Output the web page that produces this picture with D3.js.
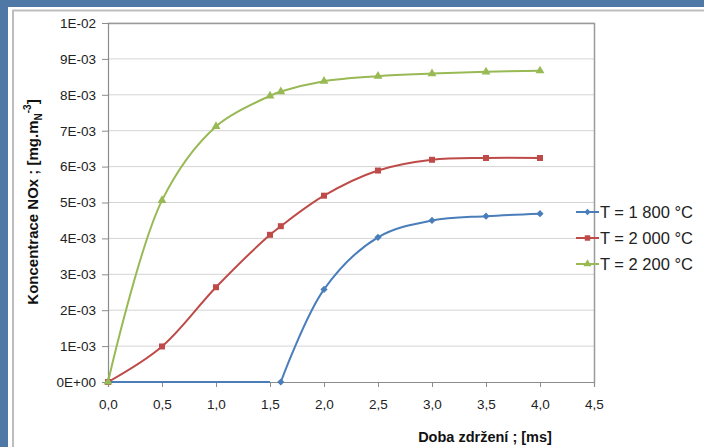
<!DOCTYPE html>
<html>
<head>
<meta charset="utf-8">
<script src="https://cdn.jsdelivr.net/npm/d3@7"></script>
<style>
  html, body { margin: 0; padding: 0; background: #4f78a6; }
  svg { display: block; }
  text { font-family: "Liberation Sans", Arial, sans-serif; }
</style>
</head>
<body>
<svg id="chart" width="704" height="447"></svg>
<script>
const xTicks = [0, 0.5, 1.0, 1.5, 2.0, 2.5, 3.0, 3.5, 4.0, 4.5];
const yTicks = [0, 0.001, 0.002, 0.003, 0.004, 0.005, 0.006, 0.007, 0.008, 0.009, 0.01];
const yTickLabels = ["0E+00", "1E-03", "2E-03", "3E-03", "4E-03", "5E-03", "6E-03", "7E-03", "8E-03", "9E-03", "1E-02"];

// flat part of the 1800 °C curve (no markers)
const baseX1800 = [0, 1.5];
const baseY1800 = [0, 0];

const time1800 = [1.6, 2.0, 2.5, 3.0, 3.5, 4.0];
const nox1800 = [0, 0.00258, 0.00403, 0.0045, 0.00462, 0.00469];

const time2000 = [0, 0.5, 1.0, 1.5, 1.6, 2.0, 2.5, 3.0, 3.5, 4.0];
const nox2000 = [0, 0.00099, 0.00264, 0.00410, 0.00434, 0.00519, 0.00589, 0.00619, 0.00624, 0.00624];

const time2200 = [0, 0.5, 1.0, 1.5, 1.6, 2.0, 2.5, 3.0, 3.5, 4.0];
const nox2200 = [0, 0.00506, 0.00712, 0.00797, 0.00809, 0.00838, 0.00852, 0.00859, 0.00864, 0.00867];

const seriesNames = ["T = 1 800 °C", "T = 2 000 °C", "T = 2 200 °C"];
const colors = ["#4a7ebb", "#be4b48", "#98b954"];
const symbols = [d3.symbolSquare, d3.symbolSquare, d3.symbolTriangle];
const rotations = [45, 0, 0];
const sizes = [26, 36, 34];

const zip = (xs, ys) => xs.map((x, i) => ({x: x, y: ys[i]}));
const series = [
  zip(time1800, nox1800),
  zip(time2000, nox2000),
  zip(time2200, nox2200)
];

const svg = d3.select("#chart");

// white chart panel
svg.append("rect").attr("x", 8).attr("y", 7).attr("width", 720).attr("height", 460).attr("fill", "#fff");
svg.append("rect").attr("x", 13).attr("y", 10.5).attr("width", 720).attr("height", 460)
  .attr("fill", "#fff").attr("stroke", "#bdbdbd").attr("stroke-width", 2);

const margin = {left: 108, right: 594, top: 23, bottom: 382};

const x = d3.scaleLinear().domain([0, 4.5]).range([margin.left, margin.right]);
const y = d3.scaleLinear().domain([0, 0.01]).range([margin.bottom, margin.top]);

// gridlines
svg.append("g")
  .selectAll("line")
  .data(yTicks.slice(1))
  .enter().append("line")
  .attr("x1", margin.left).attr("x2", margin.right)
  .attr("y1", d => y(d)).attr("y2", d => y(d))
  .attr("stroke", "#d4d4d4").attr("stroke-width", 1);

// plot border top/right
svg.append("path")
  .attr("d", `M${margin.left},${margin.top + 0.5}H${margin.right + 0.5}V${margin.bottom}`)
  .attr("fill", "none").attr("stroke", "#9a9a9a").attr("stroke-width", 1.5);

const xAxis = svg.append("g")
  .attr("transform", `translate(0,${margin.bottom})`)
  .call(d3.axisBottom(x).tickValues(xTicks).tickSize(5).tickPadding(12)
    .tickFormat(d => d3.format(".1f")(d).replace(".", ",")));

const yAxis = svg.append("g")
  .attr("transform", `translate(${margin.left},0)`)
  .call(d3.axisLeft(y).tickValues(yTicks).tickSize(6).tickPadding(6)
    .tickFormat((d, i) => yTickLabels[i]));

[xAxis, yAxis].forEach(a => {
  a.select(".domain").attr("stroke", "#8c8c8c").attr("stroke-width", 1.2);
  a.selectAll(".tick line").attr("stroke", "#8c8c8c");
  a.selectAll(".tick text").attr("fill", "#222").style("font-size", "13.5px")
    .style("font-family", "'Liberation Sans', Arial, sans-serif");
});

const line = d3.line().x(d => x(d.x)).y(d => y(d.y)).curve(d3.curveCatmullRom.alpha(0.5));

// flat baseline of 1800
svg.append("path")
  .datum(zip(baseX1800, baseY1800))
  .attr("d", d3.line().x(d => x(d.x)).y(d => y(d.y)))
  .attr("fill", "none").attr("stroke", colors[0]).attr("stroke-width", 2);

series.forEach((s, i) => {
  svg.append("path")
    .datum(s)
    .attr("d", line)
    .attr("fill", "none").attr("stroke", colors[i]).attr("stroke-width", 2);
});

series.forEach((s, i) => {
  svg.append("g").selectAll("path")
    .data(s)
    .enter().append("path")
    .attr("transform", d => `translate(${x(d.x)},${y(d.y)}) rotate(${rotations[i]})`)
    .attr("d", d3.symbol().type(symbols[i]).size(sizes[i]))
    .attr("fill", colors[i]);
});

// axis titles
svg.append("text")
  .attr("x", 485).attr("y", 442)
  .attr("text-anchor", "middle")
  .style("font-size", "14.5px").style("font-weight", "bold").attr("fill", "#111")
  .text("Doba zdržení ; [ms]");

const yt = svg.append("text")
  .attr("transform", "translate(38,202) rotate(-90)")
  .attr("text-anchor", "middle")
  .style("font-size", "15px").style("font-weight", "bold").attr("fill", "#111");
yt.append("tspan").text("Koncentrace NOx ; [mg.m");
yt.append("tspan").attr("dy", 4).style("font-size", "10px").text("N");
yt.append("tspan").attr("dy", -11).style("font-size", "10px").text("-3");
yt.append("tspan").attr("dy", 7).text("]");

// legend
const legend = svg.append("g");
seriesNames.forEach((name, i) => {
  const ly = 212 + i * 26;
  legend.append("line")
    .attr("x1", 576).attr("x2", 599).attr("y1", ly).attr("y2", ly)
    .attr("stroke", colors[i]).attr("stroke-width", 2);
  legend.append("path")
    .attr("transform", `translate(587.5,${ly}) rotate(${rotations[i]})`)
    .attr("d", d3.symbol().type(symbols[i]).size(sizes[i] - 6))
    .attr("fill", colors[i]);
  legend.append("text")
    .attr("x", 600).attr("y", ly + 6)
    .style("font-size", "16.5px").attr("fill", "#222")
    .text(name);
});
</script>
</body>
</html>
